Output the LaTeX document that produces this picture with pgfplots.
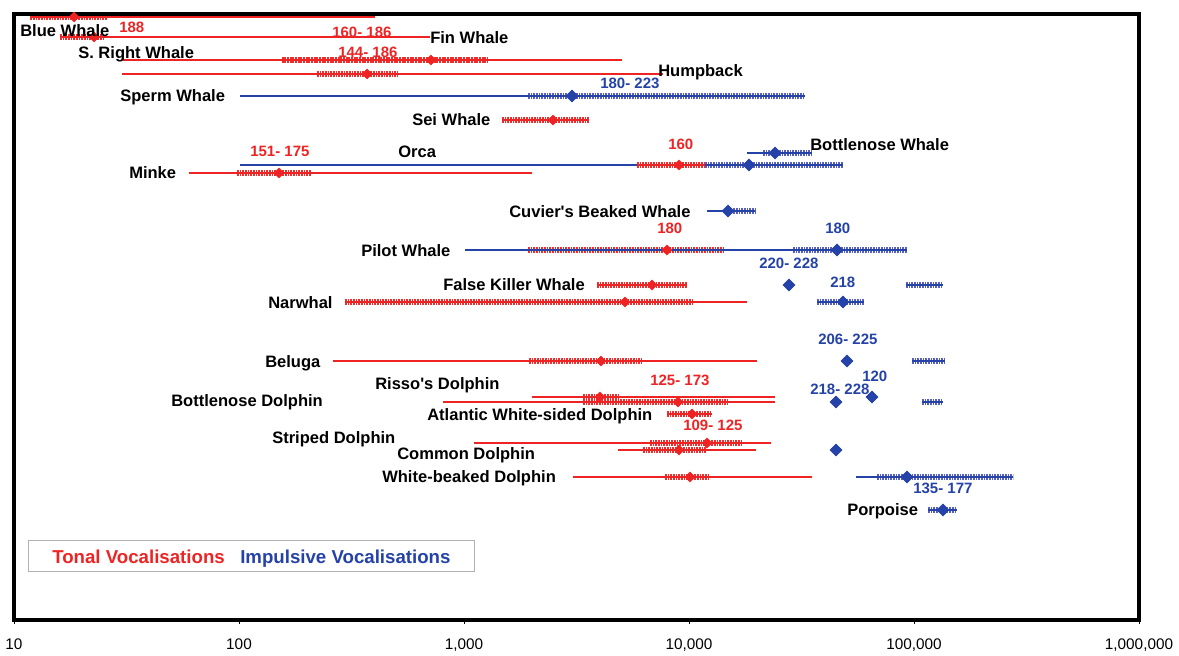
\documentclass[border=0pt]{standalone}
\usepackage{pgfplots}
\pgfplotsset{compat=1.18}
\usepackage{fontspec}
\setmainfont{Liberation Sans}
\definecolor{tred}{RGB}{238,36,36}
\definecolor{tredh}{RGB}{238,45,45}
\definecolor{iblue}{RGB}{36,66,168}
\definecolor{ibluh}{RGB}{85,95,190}
\newcommand\lbl{\fontsize{12.4}{14}\selectfont\bfseries}
\newcommand\nbr{\fontsize{11.25}{13}\selectfont\bfseries}
\newcommand\lgd{\fontsize{14}{16}\selectfont\bfseries}
\begin{document}
\begin{tikzpicture}
\begin{axis}[
  scale only axis, width=843.75pt, height=454.5pt,
  xmode=log, xmin=10, xmax=1000000, ymin=14, ymax=620, y dir=reverse,
  ytick=\empty,
  xtick={10,100,1000,10000,100000,1000000},
  xticklabels={10,100,{1,000},{10,000},{100,000},{1,000,000}},
  xminorticks=false,
  xtick pos=left, tick align=outside, major tick length=3pt,
  xtick style={black, line width=0.6pt},
  xticklabel style={font=\fontsize{11.5}{13}\selectfont, yshift=-7.5pt},
  axis line style={line width=2.4pt},
  axis on top,
  tl/.style={line width=1.5pt},
  hb/.style={line width=5pt, dash pattern=on 1.3pt off 0.7pt},
  pr/.style={only marks, mark=square*, mark size=2.6pt, mark options={rotate=45, draw=tred, fill=tred}},
  pb/.style={only marks, mark=square*, mark size=3.2pt, mark options={rotate=45, draw=iblue, fill=iblue}},
]
% ---------------- Impulsive (blue) ----------------
% Sperm Whale
\addplot[hb,ibluh] coordinates {(1925,96)(32780,96)};
\addplot[tl,iblue] coordinates {(101,96)(32780,96)};
\addplot[pb] coordinates {(3020,96)};
% Bottlenose Whale
\addplot[hb,ibluh] coordinates {(21320,153)(35220,153)};
\addplot[tl,iblue] coordinates {(18100,153)(35220,153)};
\addplot[pb] coordinates {(24120,153)};
% Orca
\addplot[hb,ibluh] coordinates {(11780,165)(48340,165)};
\addplot[tl,iblue] coordinates {(101,165)(48340,165)};
\addplot[pb] coordinates {(18480,165)};
% Cuvier's Beaked Whale
\addplot[hb,ibluh] coordinates {(14910,211)(19650,211)};
\addplot[tl,iblue] coordinates {(12020,211)(19650,211)};
\addplot[pb] coordinates {(14910,211)};
% Pilot Whale
\addplot[hb,ibluh] coordinates {(28990,250)(93090,250)};
\addplot[pb] coordinates {(45480,250)};
% False Killer Whale
\addplot[pb] coordinates {(27830,285)};
\addplot[hb,ibluh] coordinates {(92130,285)(134550,285)};
\addplot[tl,iblue] coordinates {(92130,285)(134550,285)};
% Narwhal
\addplot[hb,ibluh] coordinates {(37060,302)(59950,302)};
\addplot[tl,iblue] coordinates {(37060,302)(59950,302)};
\addplot[pb] coordinates {(48340,302)};
% Beluga
\addplot[pb] coordinates {(50380,361)};
\addplot[hb,ibluh] coordinates {(97970,361)(137330,361)};
\addplot[tl,iblue] coordinates {(97970,361)(137330,361)};
% Risso's Dolphin
\addplot[pb] coordinates {(65060,397)};
% Bottlenose Dolphin
\addplot[pb] coordinates {(45010,402)};
\addplot[hb,ibluh] coordinates {(108530,402)(134550,402)};
\addplot[tl,iblue] coordinates {(108530,402)(134550,402)};
% Common Dolphin
\addplot[pb] coordinates {(45010,450)};
% White-beaked Dolphin
\addplot[hb,ibluh] coordinates {(68470,477)(275400,477)};
\addplot[tl,iblue] coordinates {(55250,477)(275400,477)};
\addplot[pb] coordinates {(93090,477)};
% Porpoise
\addplot[hb,ibluh] coordinates {(115400,510)(155300,510)};
\addplot[tl,iblue] coordinates {(115400,510)(155300,510)};
\addplot[pb] coordinates {(134550,510)};
% ---------------- Tonal (red) ----------------
% Blue Whale
\addplot[hb,tredh] coordinates {(11.8,17)(25.9,17)};
\addplot[tl,tred] coordinates {(11.8,17)(402,17)};
\addplot[pr] coordinates {(18.5,17)};
% Fin Whale
\addplot[hb,tredh] coordinates {(16.0,37)(25.4,37)};
\addplot[tl,tred] coordinates {(16.0,37)(706,37)};
\addplot[pr] coordinates {(22.7,37)};
% S. Right Whale
\addplot[hb,tredh] coordinates {(155,60)(1278,60)};
\addplot[tl,tred] coordinates {(30.5,60)(5040,60)};
\addplot[pr] coordinates {(713,60)};
% Humpback
\addplot[hb,tredh] coordinates {(222,74)(509,74)};
\addplot[tl,tred, line width=2.2pt] coordinates {(30.2,74)(7660,74)};
\addplot[pr] coordinates {(371,74)};
% Sei Whale
\addplot[hb,tredh] coordinates {(1475,120)(3594,120)};
\addplot[tl,tred] coordinates {(1475,120)(3594,120)};
\addplot[pr] coordinates {(2487,120)};
% Orca
\addplot[hb,tredh] coordinates {(5872,165)(11780,165)};
\addplot[tl,tred] coordinates {(5872,165)(11780,165)};
\addplot[pr] coordinates {(9028,165)};
% Minke
\addplot[hb,tredh] coordinates {(98,173)(209,173)};
\addplot[tl,tred] coordinates {(59.9,173)(2005,173)};
\addplot[pr] coordinates {(150.6,173)};
% Pilot Whale
\addplot[hb,tredh] coordinates {(1925,250)(14450,250)};
\addplot[tl,iblue] coordinates {(1010,250)(93090,250)};
\addplot[pr] coordinates {(7986,250)};
% False Killer Whale
\addplot[hb,tredh] coordinates {(3900,285)(9797,285)};
\addplot[tl,tred] coordinates {(3900,285)(9797,285)};
\addplot[pr] coordinates {(6847,285)};
% Narwhal
\addplot[hb,tredh] coordinates {(296,302)(10420,302)};
\addplot[tl,tred] coordinates {(296,302)(18100,302)};
\addplot[pr] coordinates {(5195,302)};
% Beluga
\addplot[hb,tredh] coordinates {(1945,361)(6182,361)};
\addplot[tl,tred] coordinates {(262,361)(20060,361)};
\addplot[pr] coordinates {(4062,361)};
% Risso's Dolphin
\addplot[hb,tredh] coordinates {(3380,397)(4936,397)};
\addplot[tl,tred] coordinates {(2005,397)(24120,397)};
\addplot[pr] coordinates {(4021,397)};
% Bottlenose Dolphin
\addplot[hb,tredh] coordinates {(3380,402)(14910,402)};
\addplot[tl,tred] coordinates {(806,402)(24120,402)};
\addplot[pr] coordinates {(8935,402)};
% Atlantic White-sided Dolphin
\addplot[hb,tredh] coordinates {(7986,414)(12650,414)};
\addplot[tl,tred] coordinates {(7986,414)(12650,414)};
\addplot[pr] coordinates {(10310,414)};
% Striped Dolphin
\addplot[hb,tredh] coordinates {(6708,443)(17380,443)};
\addplot[tl,tred] coordinates {(1108,443)(23140,443)};
\addplot[pr] coordinates {(12020,443)};
% Common Dolphin
\addplot[hb,tredh] coordinates {(6246,450)(12020,450)};
\addplot[tl,tred] coordinates {(4835,450)(19860,450)};
\addplot[pr] coordinates {(9028,450)};
% White-beaked Dolphin
\addplot[hb,tredh] coordinates {(7823,477)(12270,477)};
\addplot[tl,tred] coordinates {(3051,477)(35220,477)};
\addplot[pr] coordinates {(10100,477)};
\end{axis}
\begin{scope}[shift={(current axis.north west)}, x=0.75pt, y=-0.75pt, shift={(-14,-14)}]
\path (0,0) rectangle (1179,654);
\tikzset{every node/.style={anchor=base west, inner sep=0pt}}
% species names
\node[font=\lbl] at (20,37) {Blue Whale};
\node[font=\lbl] at (430,44) {Fin Whale};
\node[font=\lbl] at (78,58.5) {S. Right Whale};
\node[font=\lbl] at (658,77) {Humpback};
\node[font=\lbl] at (120,101.5) {Sperm Whale};
\node[font=\lbl] at (412,126) {Sei Whale};
\node[font=\lbl] at (810,150.5) {Bottlenose Whale};
\node[font=\lbl] at (398,157.5) {Orca};
\node[font=\lbl] at (129,178.5) {Minke};
\node[font=\lbl] at (509,217.5) {Cuvier\textquotesingle s Beaked Whale};
\node[font=\lbl] at (361,256.5) {Pilot Whale};
\node[font=\lbl] at (443,291) {False Killer Whale};
\node[font=\lbl] at (268,309) {Narwhal};
\node[font=\lbl] at (265,367.5) {Beluga};
\node[font=\lbl] at (375,390) {Risso\textquotesingle s Dolphin};
\node[font=\lbl] at (171,407) {Bottlenose Dolphin};
\node[font=\lbl] at (427,421) {Atlantic White-sided Dolphin};
\node[font=\lbl] at (272,443.5) {Striped Dolphin};
\node[font=\lbl] at (397,460) {Common Dolphin};
\node[font=\lbl] at (382,483) {White-beaked Dolphin};
\node[font=\lbl] at (847,516) {Porpoise};
% tonal source levels
\node[font=\nbr, text=tred] at (119,33) {188};
\node[font=\nbr, text=tred] at (332,37.4) {160- 186};
\node[font=\nbr, text=tred] at (338,57.4) {144- 186};
\node[font=\nbr, text=tred] at (250,156.4) {151- 175};
\node[font=\nbr, text=tred] at (668,150) {160};
\node[font=\nbr, text=tred] at (657,233.4) {180};
\node[font=\nbr, text=tred] at (650,385.4) {125- 173};
\node[font=\nbr, text=tred] at (683,431) {109- 125};
% impulsive source levels
\node[font=\nbr, text=iblue] at (600,88.4) {180- 223};
\node[font=\nbr, text=iblue] at (825,233.4) {180};
\node[font=\nbr, text=iblue] at (759,269) {220- 228};
\node[font=\nbr, text=iblue] at (830,287.4) {218};
\node[font=\nbr, text=iblue] at (818,345) {206- 225};
\node[font=\nbr, text=iblue] at (862,381.4) {120};
\node[font=\nbr, text=iblue] at (810,394.4) {218- 228};
\node[font=\nbr, text=iblue] at (913,493.4) {135- 177};
% legend
\draw[draw=black!30, line width=0.75pt, fill=white] (28,541) rectangle (474,572);
\node[font=\lgd, text=tred] at (52,563.7) {Tonal Vocalisations};
\node[font=\lgd, text=iblue] at (240,563.7) {Impulsive Vocalisations};
\end{scope}
\end{tikzpicture}
\end{document}
